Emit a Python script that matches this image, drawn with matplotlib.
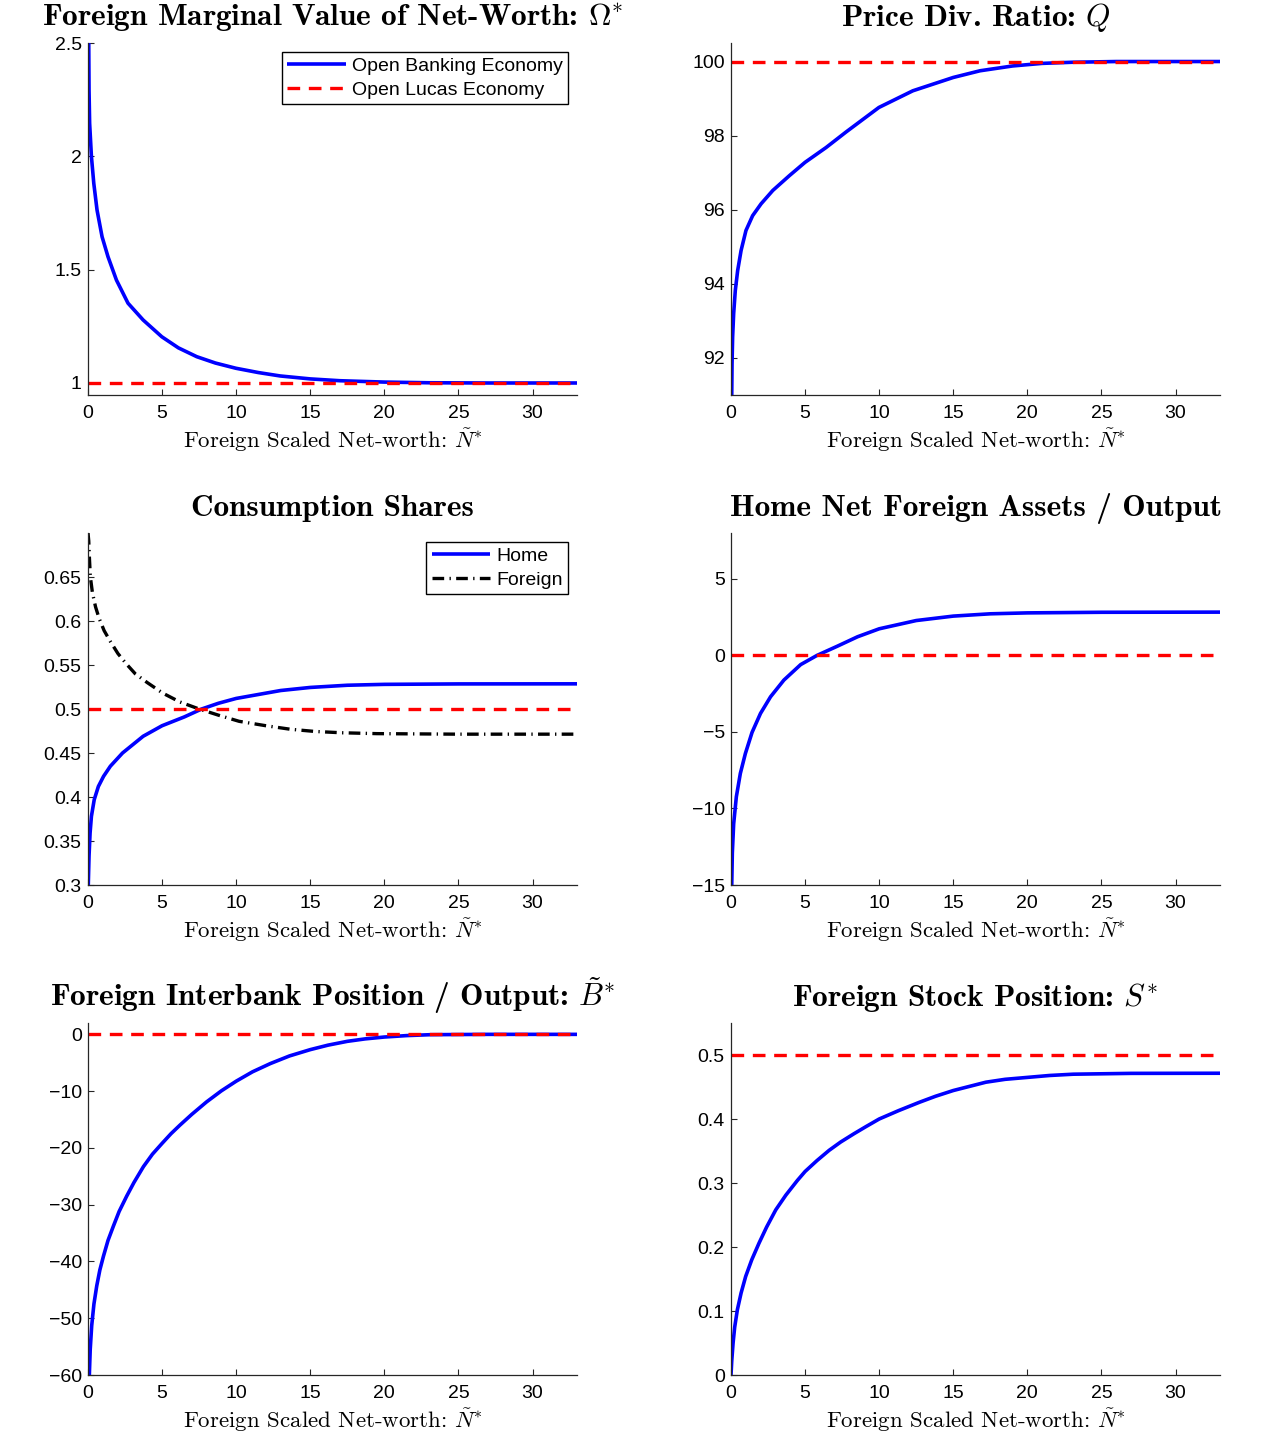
import numpy as np
import matplotlib
matplotlib.use("Agg")
from matplotlib import pyplot as plt

plt.rcParams["mathtext.fontset"] = "cm"
plt.rcParams["font.family"] = ["Liberation Sans", "DejaVu Sans"]

# ---- values ----
x_omega = [0.03, 0.05, 0.07, 0.11, 0.23, 0.39, 0.61, 0.95, 1.35, 1.92, 2.7, 3.72, 4.98, 6.1, 7.34,
           8.6, 9.98, 11.5, 12.97, 15, 17, 20, 23, 27, 33]
omega = [2.6, 2.498, 2.29, 2.146, 2.0, 1.881, 1.763, 1.645, 1.557, 1.454, 1.352, 1.278, 1.204, 1.155,
         1.116, 1.088, 1.065, 1.046, 1.031, 1.018, 1.010, 1.004, 1.001, 1.0, 1.0]

x_q = [0, 0.05, 0.07, 0.11, 0.18, 0.29, 0.45, 0.68, 1.01, 1.46, 2.03, 2.82, 3.94, 5.0, 6.42, 7.77,
       9.98, 12.27, 15.0, 16.8, 19, 21, 23, 26, 33]
q = [90.8, 91.0, 91.85, 92.57, 93.2, 93.82, 94.36, 94.9, 95.44, 95.84, 96.16, 96.52, 96.92, 97.28,
     97.68, 98.1, 98.76, 99.21, 99.57, 99.75, 99.88, 99.95, 99.98, 100.0, 100.0]

x_home = [0, 0.02, 0.07, 0.14, 0.23, 0.42, 0.7, 1.05, 1.51, 2.33, 3.72, 5.0, 6.5, 7.67, 8.8, 10,
          13, 15, 17.5, 20, 25, 33]
c_home = [0.295, 0.301, 0.333, 0.359, 0.378, 0.397, 0.412, 0.4235, 0.435, 0.450, 0.469, 0.481,
          0.491, 0.5, 0.5065, 0.512, 0.521, 0.5245, 0.527, 0.528, 0.5285, 0.5286]
x_foreign = [0, 0.05, 0.1, 0.16, 0.3, 0.51, 0.75, 1.09, 1.5, 2.02, 2.6, 3.19, 4.0, 5.05, 6.2, 7.5,
             8.8, 10.2, 12, 13.65, 15.3, 17.1, 19.5, 25, 33]
c_foreign = [0.70, 0.691, 0.67, 0.65, 0.632, 0.616, 0.603, 0.589, 0.577, 0.563, 0.551, 0.540,
             0.530, 0.518, 0.508, 0.5, 0.493, 0.486, 0.481, 0.477, 0.4745, 0.473, 0.472, 0.4714,
             0.4714]

x_nfa = [0, 0.05, 0.09, 0.18, 0.36, 0.63, 0.97, 1.42, 1.99, 2.67, 3.57, 4.7, 5.8, 7.19, 8.54, 10,
         12.5, 15, 17.5, 20, 25, 33]
nfa = [-15.3, -15.0, -12.9, -11.0, -9.24, -7.71, -6.41, -5.03, -3.79, -2.70, -1.61, -0.6, 0.0, 0.61,
       1.22, 1.74, 2.28, 2.57, 2.72, 2.78, 2.82, 2.83]

x_bank = [0.05, 0.09, 0.15, 0.25, 0.4, 0.59, 0.8, 1.04, 1.35, 1.71, 2.1, 2.61, 3.1, 3.74, 4.35, 5.0,
          5.6, 6.2, 7.0, 8.0, 9.0, 10, 11.1, 12.3, 13.6, 15, 16.2, 17.5, 18.7, 20, 21.5, 23.1, 27, 33]
bank = [-61, -60, -55.5, -51.3, -47.5, -44.3, -41.5, -39.1, -36.3, -33.8, -31.2, -28.5, -26.1,
        -23.3, -21.1, -19.2, -17.5, -16.0, -14.1, -11.9, -9.95, -8.25, -6.6, -5.15, -3.8, -2.69,
        -1.9, -1.23, -0.8, -0.47, -0.22, -0.06, 0, 0]

x_stock = [0, 0.05, 0.14, 0.25, 0.43, 0.68, 0.99, 1.4, 1.89, 2.4, 3.02, 3.7, 4.48, 5.0, 5.8, 6.62,
           7.4, 8.3, 9.1, 10, 11.3, 12.7, 13.8, 15, 16.1, 17.2, 18.5, 20, 21.5, 23.1, 27, 33]
stock = [0, 0.022, 0.050, 0.075, 0.102, 0.128, 0.154, 0.180, 0.206, 0.231, 0.258, 0.281, 0.304,
         0.318, 0.335, 0.351, 0.364, 0.377, 0.388, 0.400, 0.413, 0.426, 0.4355, 0.4445, 0.451,
         0.4575, 0.462, 0.465, 0.468, 0.470, 0.4713, 0.4715]

x_ref = [0, 33]
ref_omega = [1, 1]
ref_q = [100, 100]
ref_cons = [0.5, 0.5]
ref_nfa = [0, 0]
ref_bank = [0, 0]
ref_stock = [0.5, 0.5]

titles = [r"Foreign Marginal Value of Net-Worth: $\Omega^{*}$",
          r"Price Div. Ratio: $Q$",
          "Consumption Shares",
          "Home Net Foreign Assets / Output",
          r"Foreign Interbank Position / Output: $\tilde{B}^{*}$",
          r"Foreign Stock Position: $S^{*}$"]
xlabel = r"Foreign Scaled Net-worth: $\tilde{N}^{*}$"
xticks = [0, 5, 10, 15, 20, 25, 30]

yticks = [[1, 1.5, 2, 2.5],
          [92, 94, 96, 98, 100],
          [0.3, 0.35, 0.4, 0.45, 0.5, 0.55, 0.6, 0.65],
          [-15, -10, -5, 0, 5],
          [-60, -50, -40, -30, -20, -10, 0],
          [0, 0.1, 0.2, 0.3, 0.4, 0.5]]
ytlabels = [["1", "1.5", "2", "2.5"],
            ["92", "94", "96", "98", "100"],
            ["0.3", "0.35", "0.4", "0.45", "0.5", "0.55", "0.6", "0.65"],
            ["\u221215", "\u221210", "\u22125", "0", "5"],
            ["\u221260", "\u221250", "\u221240", "\u221230", "\u221220", "\u221210", "0"],
            ["0", "0.1", "0.2", "0.3", "0.4", "0.5"]]
ylims = [(0.947, 2.5), (91, 100.5), (0.3, 0.7), (-15, 8), (-60, 2), (0, 0.55)]

W, H = 1265, 1436
fig = plt.figure(figsize=(W / 100, H / 100), dpi=100)

lefts = [88, 731]
tops = [43, 533, 1023]
aw, ah = 489, 352
axes = []
for r in range(3):
    for c in range(2):
        ax = fig.add_axes([lefts[c] / W, 1 - (tops[r] + ah) / H, aw / W, ah / H])
        axes.append(ax)

blue = dict(color="#0000ff", lw=2.6, solid_capstyle="butt", solid_joinstyle="round")
red = dict(color="#ff0000", lw=2.4, dashes=(3.8, 2.6))

a1, a2, a3, a4, a5, a6 = axes
a1.plot(x_omega, omega, label="Open Banking Economy", **blue)
a1.plot(x_ref, ref_omega, label="Open Lucas Economy", **red)
a2.plot(x_q, q, **blue)
a2.plot(x_ref, ref_q, **red)
a3.plot(x_home, c_home, label="Home", **blue)
a3.plot(x_foreign, c_foreign, color="black", lw=2.4, dashes=(3.5, 1.6, 0.4, 1.6), label="Foreign")
a3.plot(x_ref, ref_cons, **red)
a4.plot(x_nfa, nfa, **blue)
a4.plot(x_ref, ref_nfa, **red)
a5.plot(x_bank, bank, **blue)
a5.plot(x_ref, ref_bank, **red)
a6.plot(x_stock, stock, **blue)
a6.plot(x_ref, ref_stock, **red)

for i, ax in enumerate(axes):
    ax.set_xlim(0, 33)
    ax.set_ylim(*ylims[i])
    ax.set_xticks(xticks)
    ax.set_yticks(yticks[i])
    ax.set_yticklabels(ytlabels[i])
    for s in ("top", "right"):
        ax.spines[s].set_visible(False)
    for s in ("left", "bottom"):
        ax.spines[s].set_color("#262626")
        ax.spines[s].set_linewidth(0.9)
    ax.tick_params(direction="in", length=4, width=0.8, color="#262626", labelsize=14)
    ax.tick_params(axis="x", pad=7.5)
    ax.tick_params(axis="y", pad=4.5)
    ax.set_title(titles[i], family="cmb10", fontsize=22.5, pad=12.5)
    ax.set_xlabel(xlabel, family="cmr10", fontsize=16.5, labelpad=3)

leg_kw = dict(loc="upper right", fontsize=14, fancybox=False, framealpha=1,
              edgecolor="black", handlelength=3.0, handletextpad=0.3,
              borderaxespad=0.45, borderpad=0.3, labelspacing=0.3)
l1 = a1.legend(**leg_kw)
l3 = a3.legend(**leg_kw)
for lg in (l1, l3):
    lg.get_frame().set_linewidth(1.0)

fig.savefig("out.png", dpi=100)
